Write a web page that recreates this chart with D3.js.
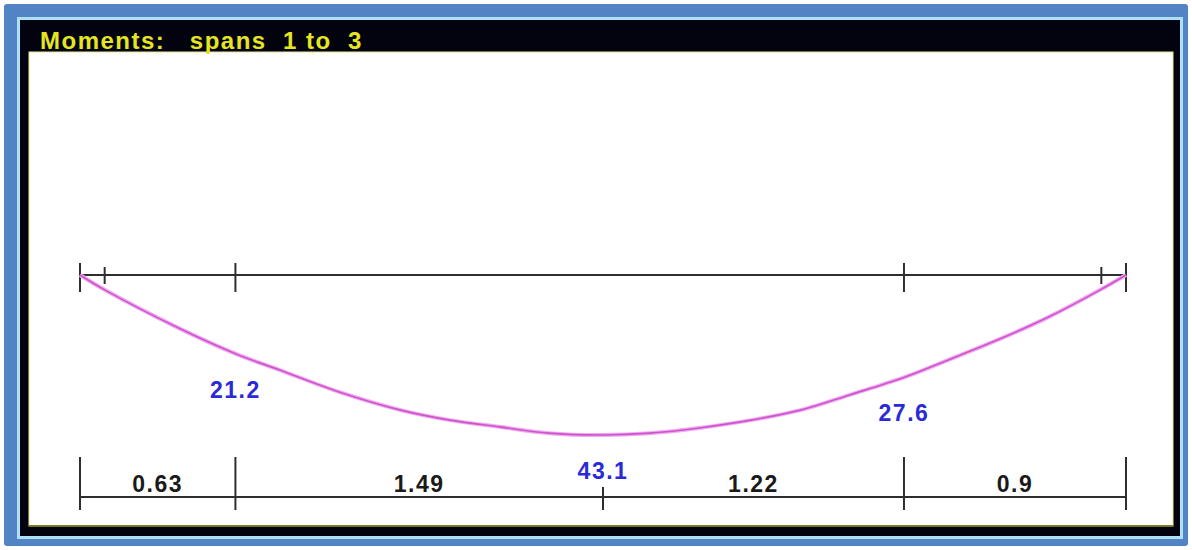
<!DOCTYPE html>
<html>
<head>
<meta charset="utf-8">
<script src="https://cdn.jsdelivr.net/npm/d3@7"></script>
<style>
	body { margin: 0; background: #fff; }
	text { font-family: "Liberation Sans", Arial, sans-serif; font-weight: bold; }
</style>
</head>
<body>
<script>
// beam data (metres, kNm)
const spanLengths = [0.63, 1.49, 1.22, 0.9];
const spanLabels = ["0.63", "1.49", "1.22", "0.9"];
const beamTicks = [0, 0.63, 3.34, 4.24];
const supportFaces = [0.1, 4.14];
const midTick = [2.12];

// moment curve
const momentX = [0, 0.1, 0.4, 0.63, 0.81, 1.05, 1.3, 1.5, 1.7, 1.9, 2.12, 2.31, 2.51, 2.72, 2.92, 3.12, 3.34, 3.53, 3.73, 3.93, 4.13, 4.24];
const momentY = [0, 4.0, 14.3, 21.2, 25.6, 31.5, 36.4, 39.1, 40.9, 42.6, 43.1, 42.6, 41.2, 39.1, 36.4, 32.3, 27.6, 22.6, 17.2, 11.2, 4.2, 0];

const peakX = [0.63, 2.12, 3.34];
const peakVal = [21.2, 43.1, 27.6];

const title = "Moments:   spans  1 to  3";

const W = 1192, H = 550;

const svg = d3.select("body").append("svg")
	.attr("width", W)
	.attr("height", H);

// window frame
svg.append("rect").attr("x", 4).attr("y", 4).attr("width", 1184).attr("height", 542)
	.attr("rx", 3).attr("fill", "#5283c5");
svg.append("rect").attr("x", 17).attr("y", 17).attr("width", 1166).attr("height", 522)
	.attr("fill", "#ade0f6");
svg.append("rect").attr("x", 20).attr("y", 20).attr("width", 1160).attr("height", 516)
	.attr("fill", "#030310");
svg.append("rect").attr("x", 29).attr("y", 52).attr("width", 1144).attr("height", 474)
	.attr("fill", "#fff")
	.attr("stroke", "#e8e890").attr("stroke-width", 1);
svg.append("line").attr("x1", 29).attr("x2", 1173).attr("y1", 526).attr("y2", 526)
	.attr("stroke", "#7a7a28").attr("stroke-width", 2);

svg.append("text")
	.attr("x", 40)
	.attr("y", 49)
	.attr("fill", "#e6e620")
	.attr("font-size", "24px")
	.style("letter-spacing", "1.5px")
	.style("white-space", "pre")
	.text(title);

const x = d3.scaleLinear()
	.domain([0, d3.sum(spanLengths)])
	.range([80, 1126]);

const y = d3.scaleLinear()
	.domain([0, 43.1])
	.range([275, 435]);

const beamY = y(0);
const ink = "#2e2e2e";

// beam line
const g = svg.append("g");
g.append("line")
	.attr("x1", x(x.domain()[0])).attr("x2", x(x.domain()[1]))
	.attr("y1", beamY).attr("y2", beamY)
	.attr("stroke", ink).attr("stroke-width", 2);

g.selectAll(".btick").data(beamTicks).join("line")
	.attr("x1", d => x(d)).attr("x2", d => x(d))
	.attr("y1", beamY - 12).attr("y2", beamY + 17)
	.attr("stroke", ink).attr("stroke-width", 2);

g.selectAll(".stick").data(supportFaces).join("line")
	.attr("x1", d => x(d)).attr("x2", d => x(d))
	.attr("y1", beamY - 8).attr("y2", beamY + 9)
	.attr("stroke", ink).attr("stroke-width", 2);

// moment curve
const pts = momentX.map((d, i) => [d, momentY[i]]);
const line = d3.line()
	.x(d => x(d[0]))
	.y(d => y(d[1]))
	.curve(d3.curveCatmullRom);

svg.append("path")
	.datum(pts)
	.attr("d", line)
	.attr("fill", "none")
	.attr("stroke", "#f2a8f2")
	.attr("stroke-width", 4);
svg.append("path")
	.datum(pts)
	.attr("d", line)
	.attr("fill", "none")
	.attr("stroke", "#cc55cc")
	.attr("stroke-width", 1.6);

// moment values
svg.selectAll(".mval").data(peakVal).join("text")
	.attr("x", (d, i) => x(peakX[i]))
	.attr("y", d => y(d) + 44)
	.attr("text-anchor", "middle")
	.attr("fill", "#2a2ad6")
	.attr("font-size", "23px")
	.style("letter-spacing", "1.5px")
	.text(d => d);

// dimension line
const dimY = 497;
const bounds = [0, ...d3.cumsum(spanLengths)];
const dim = svg.append("g");
dim.append("line")
	.attr("x1", x(bounds[0])).attr("x2", x(bounds[bounds.length - 1]))
	.attr("y1", dimY).attr("y2", dimY)
	.attr("stroke", ink).attr("stroke-width", 2);

dim.selectAll(".dtick").data(beamTicks).join("line")
	.attr("x1", d => x(d)).attr("x2", d => x(d))
	.attr("y1", dimY - 40).attr("y2", dimY + 13)
	.attr("stroke", ink).attr("stroke-width", 2);

dim.selectAll(".mtick").data(midTick).join("line")
	.attr("x1", d => x(d)).attr("x2", d => x(d))
	.attr("y1", dimY - 10).attr("y2", dimY + 13)
	.attr("stroke", ink).attr("stroke-width", 2);

dim.selectAll(".dlabel").data(spanLabels).join("text")
	.attr("x", (d, i) => x((bounds[i] + bounds[i + 1]) / 2))
	.attr("y", dimY - 5)
	.attr("text-anchor", "middle")
	.attr("fill", "#1a1a1a")
	.attr("font-size", "23px")
	.style("letter-spacing", "1.5px")
	.text(d => d);
</script>
</body>
</html>
